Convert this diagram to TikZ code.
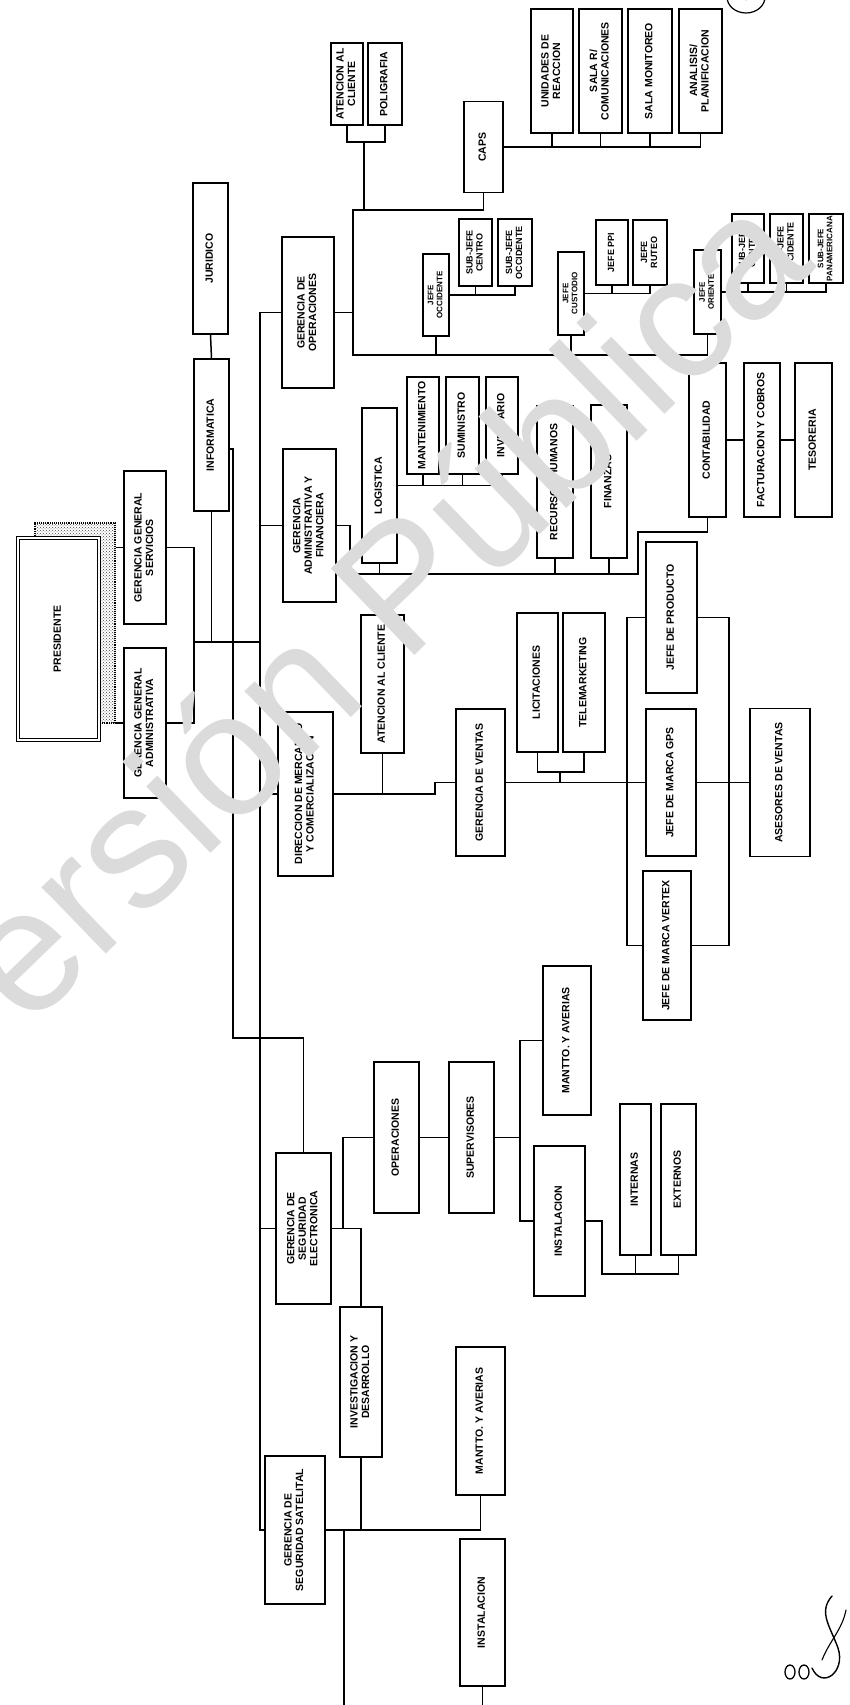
\documentclass[tikz,border=0pt]{standalone}
\usepackage{fontspec}
\setmainfont{Liberation Sans}
\usepackage{graphicx}
\usetikzlibrary{positioning, calc, patterns}
\tikzset{
  box/.style={draw, line width=1.6pt, inner sep=0pt, font=\bfseries\fontsize{10.5}{11.5}\selectfont},
  mbox/.style={box, font=\bfseries\fontsize{9}{10}\selectfont},
  sbox/.style={box, font=\bfseries\fontsize{8}{9}\selectfont},
  pbox/.style={box, double, double distance=2.4pt, line width=1pt, fill=white},
  link/.style={line width=1.5pt},
  stamp/.style={text=black!14, font=\fontsize{175}{175}\selectfont},
}
\newcommand{\vtxt}[1]{\rotatebox{90}{\begin{tabular}{@{}c@{}}#1\end{tabular}}}

\begin{document}
\begin{tikzpicture}[x=1pt, y=-1pt]
  \useasboundingbox (0,0) rectangle (849,1705);

  % operaciones
  \node[box, minimum width=32, minimum height=82] (atcl1) at (347,84) {\vtxt{ATENCION AL\\CLIENTE}};
  \node[box, minimum width=34, minimum height=82] (poli) at (385,84) {\vtxt{POLIGRAFIA}};
  \node[box, minimum width=35, minimum height=151] (jur) at (210.5,258.5) {\vtxt{JURIDICO}};
  \node[box, minimum width=35, minimum height=152] (inf) at (211.5,435) {\vtxt{INFORMATICA}};
  \node[box, minimum width=52, minimum height=151] (gops) at (308,312.5) {\vtxt{GERENCIA DE\\OPERACIONES}};
  \node[box, minimum width=39, minimum height=91] (caps) at (483.5,147) {\vtxt{CAPS}};
  \node[box, minimum width=42, minimum height=124] (unid) at (552,71) {\vtxt{UNIDADES DE\\REACCION}};
  \node[box, minimum width=43, minimum height=124] (salc) at (600.5,71) {\vtxt{SALA R/\\COMUNICACIONES}};
  \node[box, minimum width=44, minimum height=124] (salm) at (650,71) {\vtxt{SALA MONITOREO}};
  \node[box, minimum width=43, minimum height=124] (anal) at (700.5,71) {\vtxt{ANALISIS/\\PLANIFICACION}};
  \node[sbox, minimum width=26, minimum height=82] (jocc) at (436,295) {\vtxt{JEFE\\OCCIDENTE}};
  \node[mbox, minimum width=33, minimum height=67] (sjc1) at (475.5,252.5) {\vtxt{SUB-JEFE\\CENTRO}};
  \node[mbox, minimum width=34, minimum height=67] (sjo1) at (515,252.5) {\vtxt{SUB-JEFE\\OCCIDENTE}};
  \node[sbox, minimum width=26, minimum height=83] (jcus) at (571,293.5) {\vtxt{JEFE\\CUSTODIO}};
  \node[mbox, minimum width=32, minimum height=65] (jppi) at (612,252.5) {\vtxt{JEFE PPI}};
  \node[mbox, minimum width=34, minimum height=65] (jrut) at (650,252.5) {\vtxt{JEFE\\RUTEO}};
  \node[sbox, minimum width=27, minimum height=84] (jori) at (707.5,292) {\vtxt{JEFE\\ORIENTE}};
  \node[mbox, minimum width=32, minimum height=69] (sjc2) at (748,248.5) {\vtxt{SUB-JEFE\\CENTRO}};
  \node[mbox, minimum width=33, minimum height=69] (sjo2) at (786.5,248.5) {\vtxt{SUB-JEFE\\OCCIDENTE}};
  \node[sbox, minimum width=34, minimum height=69] (sjp) at (826,248.5) {\vtxt{SUB-JEFE\\PANAMERICANA}};

  \coordinate (optop) at (353,210);
  \coordinate (opbot) at (353,355);
  \coordinate (apb) at (364,142);
  \draw[link] (caps.south) |- (optop) -- (opbot) -| (jori.south);
  \draw[link] (jocc.south) -- (jocc.south |- opbot);
  \draw[link] (jcus.south) -- (jcus.south |- opbot);
  \draw[link] (gops.east) -- (gops.east -| optop);
  \draw[link] (atcl1.south) |- (apb) -| (poli.south);
  \draw[link] (apb) -- (apb |- optop);
  \foreach \n in {unid,salc,salm,anal} \draw[link] (\n.south) |- (caps.east);
  \foreach \n in {sjc1,sjo1} \draw[link] (\n.south) |- (jocc.east);
  \foreach \n in {jppi,jrut} \draw[link] (\n.south) |- (jcus.east);
  \foreach \n in {sjc2,sjo2,sjp} \draw[link] (\n.south) |- (jori.east);

  % administracion y finanzas
  \node[box, minimum width=53, minimum height=153] (gadm) at (309.5,525.5) {\vtxt{GERENCIA\\ADMINISTRATIVA Y\\FINANCIERA}};
  \node[box, minimum width=35, minimum height=155] (log) at (379.5,485.5) {\vtxt{LOGISTICA}};
  \node[box, minimum width=32, minimum height=97] (mant) at (423,425.5) {\vtxt{MANTENIMIENTO}};
  \node[box, minimum width=33, minimum height=97] (sumi) at (462.5,425.5) {\vtxt{SUMINISTRO}};
  \node[box, minimum width=32, minimum height=97] (inve) at (502,425.5) {\vtxt{INVENTARIO}};
  \node[box, minimum width=36, minimum height=152] (rrhh) at (555,482) {\vtxt{RECURSOS HUMANOS}};
  \node[box, minimum width=36, minimum height=153] (fina) at (609,481.5) {\vtxt{FINANZAS}};
  \node[box, minimum width=37, minimum height=154] (cont) at (707.5,440) {\vtxt{CONTABILIDAD}};
  \node[box, minimum width=36, minimum height=154] (fact) at (762,440) {\vtxt{FACTURACION Y COBROS}};
  \node[box, minimum width=37, minimum height=154] (teso) at (813.5,440) {\vtxt{TESORERIA}};

  \coordinate (fab) at (350,574);
  \coordinate (far) at (638,574);
  \coordinate (fac) at (638,532);
  \draw[link] (gadm.east) -| (fab) -- (far) -- (fac) -| (cont.south);
  \foreach \n in {log,rrhh,fina} \draw[link] (\n.south) -- (\n.south |- fab);
  \foreach \n in {mant,sumi,inve} \draw[link] (\n.south) |- (log.east);
  \draw[link] (cont.east) -- (fact.west);
  \draw[link] (fact.east) -- (teso.west);

  % presidencia
  \node[draw, line width=1.1pt, densely dotted, pattern=crosshatch dots, pattern color=black!75,
    minimum width=80, minimum height=200] (presb) at (75,623) {};
  \node[pbox, minimum width=81, minimum height=202] (pres) at (58.5,639) {\vtxt{PRESIDENTE}};
  \node[box, minimum width=42, minimum height=153] (ggs) at (145,547.5) {\vtxt{GERENCIA GENERAL\\SERVICIOS}};
  \node[box, minimum width=42, minimum height=150] (gga) at (145,723) {\vtxt{GERENCIA GENERAL\\ADMINISTRATIVA}};

  \coordinate (gg) at (194,642);
  \coordinate (tk) at (260,0);
  \draw[link] (ggs.west) -- (ggs.west -| presb.east);
  \draw[link] (gga.west) -- (gga.west -| presb.east);
  \draw[link] (ggs.east) -| (gg) |- (gga.east);
  \draw[link] (gg) -- (gg -| tk);
  \draw[link] (inf.south) -- (inf.south |- gg);
  \draw[link] (jur.south) -- (inf.north);

  % mercadeo y ventas
  \node[box, minimum width=55, minimum height=164] (dmc) at (305.5,794) {\vtxt{DIRECCION DE MERCADEO\\Y COMERCIALIZACION}};
  \node[box, minimum width=43, minimum height=138] (atcl2) at (382.5,684) {\vtxt{ATENCION AL CLIENTE}};
  \node[box, minimum width=49, minimum height=147] (gven) at (480.5,782.5) {\vtxt{GERENCIA DE VENTAS}};
  \node[box, minimum width=41, minimum height=139] (lici) at (537.5,682.5) {\vtxt{LICITACIONES}};
  \node[box, minimum width=42, minimum height=139] (tele) at (584,682.5) {\vtxt{TELEMARKETING}};
  \node[box, minimum width=51, minimum height=151] (jpro) at (671.5,617.5) {\vtxt{JEFE DE PRODUCTO}};
  \node[box, minimum width=50, minimum height=147] (jgps) at (671,782.5) {\vtxt{JEFE DE MARCA GPS}};
  \node[box, minimum width=60, minimum height=148] (ases) at (780,782.5) {\vtxt{ASESORES DE VENTAS}};
  \node[box, minimum width=48, minimum height=149] (jver) at (667,945.5) {\vtxt{JEFE DE MARCA VERTEX}};

  \coordinate (vstep) at (435,794);
  \coordinate (ltb) at (560,772);
  \draw[link] (dmc.east) -- (vstep) |- (gven.west);
  \draw[link] (atcl2.south) -- (atcl2.south |- dmc.east);
  \draw[link] (lici.south) |- (ltb) -| (tele.south);
  \draw[link] (ltb) -- (ltb |- gven.east);
  \draw[link] (gven.east) -- (jgps.west);
  \draw[link] (jpro.west) -- ++(-18,0) |- (jver.west);
  \draw[link] (jpro.east) -- ++(31,0) |- (jver.east);
  \draw[link] (jgps.east) -- (ases.west);

  % seguridad
  \node[box, minimum width=55, minimum height=151] (gse) at (303.5,1228.5) {\vtxt{GERENCIA DE\\SEGURIDAD\\ELECTRONICA}};
  \node[box, minimum width=45, minimum height=151] (oper) at (396.5,1137.5) {\vtxt{OPERACIONES}};
  \node[box, minimum width=45, minimum height=151] (supe) at (471.5,1137.5) {\vtxt{SUPERVISORES}};
  \node[box, minimum width=48, minimum height=149] (mav1) at (567,1040.5) {\vtxt{MANTTO. Y AVERIAS}};
  \node[box, minimum width=51, minimum height=150] (ins1) at (559.5,1221) {\vtxt{INSTALACION}};
  \node[box, minimum width=31, minimum height=151] (inte) at (635.5,1179.5) {\vtxt{INTERNAS}};
  \node[box, minimum width=35, minimum height=151] (exte) at (678.5,1179.5) {\vtxt{EXTERNOS}};
  \node[box, minimum width=42, minimum height=150] (invd) at (361,1382) {\vtxt{INVESTIGACION Y\\DESARROLLO}};
  \node[box, minimum width=49, minimum height=148] (mav2) at (480.5,1421) {\vtxt{MANTTO. Y AVERIAS}};
  \node[box, minimum width=60, minimum height=148] (gss) at (295,1530) {\vtxt{GERENCIA DE\\SEGURIDAD SATELITAL}};
  \node[box, minimum width=45, minimum height=147] (ins2) at (482.5,1612.5) {\vtxt{INSTALACION}};

  \coordinate (itl) at (233,1038);
  \coordinate (opj) at (343,0);
  \coordinate (sv) at (520,1137.5);
  \coordinate (ie) at (602,1274);
  \coordinate (sb) at (361,1530);
  \coordinate (sl) at (344,1530);
  \coordinate (slo) at (344,1705);
  \draw[link] (gops.west) -| (tk |- gss.west) -- (gss.west);
  \foreach \n in {gadm,dmc,gse} \draw[link] (\n.west) -- (\n.west -| tk);
  \draw[link] ([yshift=-14pt]inf.east) -| (itl) -| (gse.north);
  \draw[link] (oper.east) -- (supe.west);
  \draw[link] (oper.west) -| (opj |- gse.east);
  \draw[link] (gse.east) -| (invd.north);
  \draw[link] (supe.east) -- (sv);
  \draw[link] (mav1.west) -| (sv) |- (ins1.west);
  \draw[link] (ins1.east) -| (ie) -| (exte.south);
  \draw[link] (inte.south) -- (inte.south |- ie);
  \draw[link] (invd.south) -- (sb) -| (mav2.south);
  \draw[link] (gss.east) -- (sl) -- (sb);
  \draw[link] (sl) -- (slo);
  \draw[link] (ins2.south) -- (ins2.south |- slo);

  % firma
  \draw[line width=1.3pt] (790,1672) ellipse [x radius=5, y radius=7];
  \draw[line width=1.3pt] (804,1672) ellipse [x radius=5, y radius=7];
  \draw[line width=1.4pt, line cap=round] (812,1668) .. controls (822,1690) and (846,1672) .. (838,1648)
    .. controls (830,1626) and (818,1612) .. (832,1596);
  \draw[line width=1.1pt, line cap=round] (822,1660) .. controls (830,1640) and (842,1630) .. (846,1610);

  % sello y marca de agua
  \begin{scope}
    \clip (0,0) rectangle (849,1705);
    \draw[line width=1.2pt] (746,-3) ellipse [x radius=19, y radius=16];
    \node[font=\fontsize{16}{16}\selectfont] (pg) at (746,-5) {8};
    \node[stamp, rotate=44] (wm) at (340,640) {Versión Pública};
  \end{scope}
\end{tikzpicture}
\end{document}
